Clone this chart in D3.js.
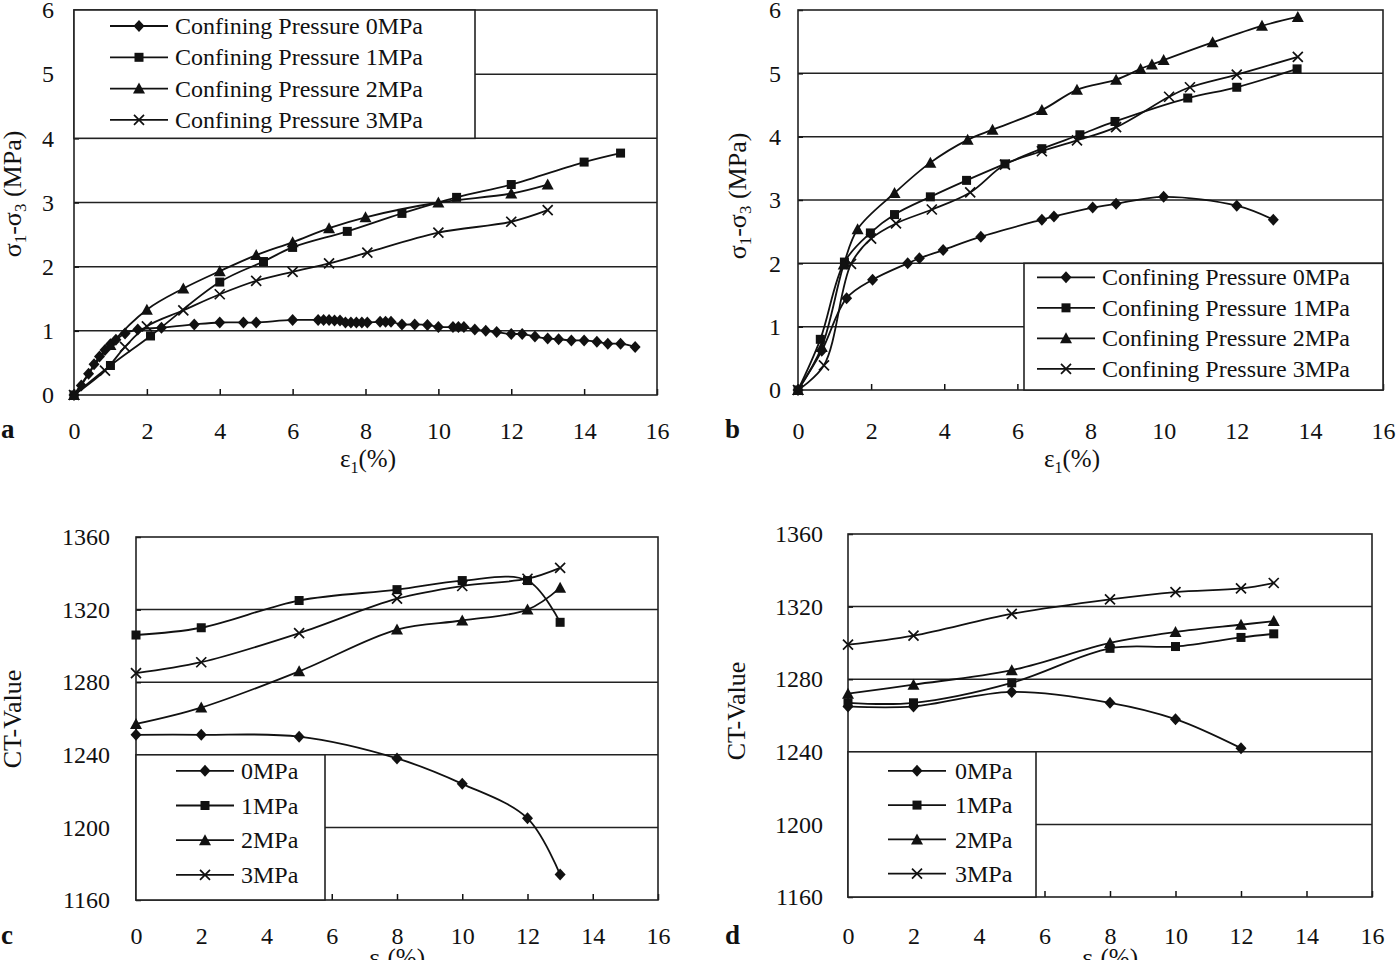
<!DOCTYPE html>
<html>
<head>
<meta charset="utf-8">
<script src="https://d3js.org/d3.v7.min.js"></script>
<style>
  body { margin: 0; background: #fff; }
  svg { display: block; }
  text { font-family: "Liberation Serif", "Times New Roman", serif; fill: #111; }
</style>
</head>
<body>
<svg id="chart" width="1400" height="960"></svg>
<script>
// ---- panel a: stress-strain, sample set 1 ----
const a0x = [0, 0.2, 0.4, 0.55, 0.7, 0.85, 1.0, 1.15, 1.4, 1.75, 2.4, 3.3, 4.0, 4.65, 5.0, 6.0,
  6.7, 6.85, 7.0, 7.15, 7.3, 7.45, 7.6, 7.75, 7.9, 8.05, 8.4, 8.55, 8.7, 9.0, 9.35, 9.7, 10.0,
  10.4, 10.55, 10.7, 11.0, 11.3, 11.6, 12.0, 12.3, 12.65, 13.0, 13.3, 13.65, 14.0, 14.35, 14.65, 15.0, 15.4];
const a0y = [0, 0.15, 0.33, 0.48, 0.6, 0.7, 0.79, 0.86, 0.96, 1.02, 1.05, 1.1, 1.13, 1.13, 1.13, 1.17,
  1.17, 1.17, 1.17, 1.16, 1.16, 1.13, 1.13, 1.13, 1.13, 1.13, 1.14, 1.14, 1.14, 1.1, 1.1, 1.09, 1.06,
  1.06, 1.06, 1.06, 1.02, 1.0, 0.98, 0.95, 0.95, 0.91, 0.88, 0.87, 0.85, 0.85, 0.83, 0.8, 0.8, 0.75];
const a1x = [0, 1.0, 2.1, 4.0, 5.2, 6.0, 7.5, 9.0, 10.5, 12.0, 14.0, 15.0];
const a1y = [0, 0.46, 0.92, 1.76, 2.08, 2.3, 2.55, 2.83, 3.08, 3.28, 3.63, 3.77];
const a2x = [0, 1.0, 2.0, 3.0, 4.0, 5.0, 6.0, 7.0, 8.0, 10.0, 12.0, 13.0];
const a2y = [0, 0.78, 1.33, 1.66, 1.93, 2.18, 2.38, 2.6, 2.77, 3.0, 3.14, 3.28];
const a3x = [0, 0.85, 1.4, 2.0, 3.0, 4.0, 5.0, 6.0, 7.0, 8.05, 10.0, 12.0, 13.0];
const a3y = [0, 0.38, 0.75, 1.07, 1.32, 1.57, 1.78, 1.92, 2.05, 2.22, 2.53, 2.7, 2.88];

// ---- panel b: stress-strain, sample set 2 ----
const b0x = [0, 0.65, 1.33, 2.04, 3.0, 3.32, 3.97, 5.0, 6.67, 7.0, 8.06, 8.7, 10.0, 12.0, 13.0];
const b0y = [0, 0.62, 1.45, 1.74, 2.0, 2.08, 2.21, 2.42, 2.69, 2.74, 2.88, 2.94, 3.05, 2.91, 2.69];
const b1x = [0, 0.61, 1.27, 1.98, 2.64, 3.62, 4.61, 5.66, 6.67, 7.71, 8.67, 10.66, 12.0, 13.65];
const b1y = [0, 0.8, 2.02, 2.48, 2.77, 3.05, 3.31, 3.57, 3.81, 4.03, 4.24, 4.61, 4.78, 5.07];
const b2x = [0, 0.65, 1.25, 1.63, 2.64, 3.62, 4.64, 5.32, 6.67, 7.63, 8.7, 9.37, 9.68, 10.0, 11.34, 12.69, 13.67];
const b2y = [0, 0.68, 1.98, 2.54, 3.11, 3.59, 3.95, 4.11, 4.42, 4.74, 4.9, 5.07, 5.14, 5.21, 5.49, 5.75, 5.89];
const b3x = [0, 0.71, 1.45, 2.0, 2.68, 3.66, 4.71, 5.66, 6.67, 7.63, 8.7, 10.15, 10.72, 12.0, 13.67];
const b3y = [0, 0.39, 1.99, 2.39, 2.63, 2.85, 3.12, 3.56, 3.77, 3.94, 4.15, 4.63, 4.78, 4.98, 5.26];

// ---- panels c, d: CT value vs strain ----
const ctStrain = [0, 2, 5, 8, 10, 12, 13];
const ctC0 = [1251, 1251, 1250, 1238, 1224, 1205, 1174];
const ctC1 = [1306, 1310, 1325, 1331, 1336, 1336, 1313];
const ctC2 = [1257, 1266, 1286, 1309, 1314, 1320, 1332];
const ctC3 = [1285, 1291, 1307, 1326, 1333, 1337, 1343];
const ctD0 = [1265, 1265, 1273, 1267, 1258, 1242];
const ctD1 = [1267, 1267, 1278, 1297, 1298, 1303, 1305];
const ctD2 = [1272, 1277, 1285, 1300, 1306, 1310, 1312];
const ctD3 = [1299, 1304, 1316, 1324, 1328, 1330, 1333];

const xTicks = [0, 2, 4, 6, 8, 10, 12, 14, 16];
const stressTicks = [0, 1, 2, 3, 4, 5, 6];
const ctTicks = [1160, 1200, 1240, 1280, 1320, 1360];
const longNames = ["Confining Pressure 0MPa", "Confining Pressure 1MPa", "Confining Pressure 2MPa", "Confining Pressure 3MPa"];
const shortNames = ["0MPa", "1MPa", "2MPa", "3MPa"];
const markers = ["diamond", "square", "triangle", "cross"];

const ink = "#111";
const svg = d3.select("#chart");

function zip(xs, ys) { return ys.map((v, i) => [xs[i], v]); }

function drawMarker(g, type, cx, cy) {
  if (type === "diamond") {
    g.append("path").attr("d", `M${cx},${cy - 6}L${cx + 5.5},${cy}L${cx},${cy + 6}L${cx - 5.5},${cy}Z`).attr("fill", ink);
  } else if (type === "square") {
    g.append("rect").attr("x", cx - 4.5).attr("y", cy - 4.5).attr("width", 9).attr("height", 9).attr("fill", ink);
  } else if (type === "triangle") {
    g.append("path").attr("d", `M${cx},${cy - 6}L${cx + 6},${cy + 5}L${cx - 6},${cy + 5}Z`).attr("fill", ink);
  } else {
    g.append("path").attr("d", `M${cx - 5},${cy - 5}L${cx + 5},${cy + 5}M${cx - 5},${cy + 5}L${cx + 5},${cy - 5}`)
      .attr("stroke", ink).attr("stroke-width", 1.7).attr("fill", "none");
  }
}

function drawPanel(p) {
  const x = d3.scaleLinear().domain([0, 16]).range([p.left, p.right]);
  const y = d3.scaleLinear().domain(p.yDomain).range([p.bottom, p.top]);
  const g = svg.append("g");

  // horizontal gridlines
  g.append("g").selectAll("line").data(p.yTicks.slice(1, -1)).join("line")
    .attr("x1", p.left).attr("x2", p.right)
    .attr("y1", d => y(d)).attr("y2", d => y(d))
    .attr("stroke", "#222").attr("stroke-width", 1.5);

  // axes, ticks point into the plot
  const xa = g.append("g").attr("transform", `translate(0,${p.bottom})`)
    .call(d3.axisBottom(x).tickValues(xTicks).tickFormat(d3.format("d")).tickSize(-6).tickPadding(p.xPad));
  xa.select(".domain").remove();
  xa.attr("font-size", 24).attr("font-family", "Liberation Serif").attr("color", ink);
  xa.selectAll("line").attr("stroke-width", 1.5);

  const ya = g.append("g").attr("transform", `translate(${p.left},0)`)
    .call(d3.axisLeft(y).tickValues(p.yTicks).tickFormat(d3.format("d")).tickSize(-5).tickPadding(p.yPad));
  ya.select(".domain").remove();
  ya.attr("font-size", 24).attr("font-family", "Liberation Serif").attr("color", ink);
  ya.selectAll("line").attr("stroke-width", 1.5);

  // plot frame
  g.append("rect").attr("x", p.left).attr("y", p.top)
    .attr("width", p.right - p.left).attr("height", p.bottom - p.top)
    .attr("fill", "none").attr("stroke", "#222").attr("stroke-width", 1.6);

  // series
  const line = d3.line().x(d => x(d[0])).y(d => y(d[1])).curve(d3.curveCatmullRom.alpha(0.5));
  p.series.forEach((s, i) => {
    g.append("path").datum(s).attr("d", line)
      .attr("fill", "none").attr("stroke", ink).attr("stroke-width", 1.8);
    const mg = g.append("g");
    s.forEach(d => drawMarker(mg, markers[i], x(d[0]), y(d[1])));
  });

  // legend box
  const L = p.legend;
  const lx0 = L.left != null ? p.left + L.left : p.left;
  const lx1 = L.right != null ? p.left + L.right : p.right;
  const ly0 = y(L.yTop), ly1 = y(L.yBottom);
  const lg = g.append("g");
  lg.append("rect").attr("x", lx0).attr("y", ly0).attr("width", lx1 - lx0).attr("height", ly1 - ly0)
    .attr("fill", "#fff").attr("stroke", "#222").attr("stroke-width", 1.6);
  L.names.forEach((name, i) => {
    const cy = ly0 + L.first + i * L.step;
    lg.append("line").attr("x1", lx0 + L.lineX).attr("x2", lx0 + L.lineX + 58)
      .attr("y1", cy).attr("y2", cy).attr("stroke", ink).attr("stroke-width", 1.8);
    drawMarker(lg, markers[i], lx0 + L.lineX + 29, cy);
    lg.append("text").attr("x", lx0 + L.textX).attr("y", cy).attr("dy", "0.34em")
      .attr("font-size", 24).text(name);
  });

  // panel letter
  g.append("text").attr("x", p.letterX).attr("y", p.letterY).attr("font-size", 27)
    .attr("font-weight", "bold").text(p.letter);

  // x title: ε1(%)
  const xt = g.append("text").attr("x", p.xTitleX).attr("y", p.xTitleY)
    .attr("text-anchor", "middle").attr("font-size", 25);
  xt.append("tspan").text("ε");
  xt.append("tspan").attr("font-size", 16).attr("dy", 6).text("1");
  xt.append("tspan").attr("dy", -6).text("(%)");

  // y title
  const yt = g.append("text").attr("transform", `translate(${p.yTitleX},${p.yTitleY}) rotate(-90)`)
    .attr("text-anchor", "middle").attr("font-size", 26);
  if (p.stress) {
    yt.append("tspan").text("σ");
    yt.append("tspan").attr("font-size", 17).attr("dy", 5).text("1");
    yt.append("tspan").attr("dy", -5).text("-σ");
    yt.append("tspan").attr("font-size", 17).attr("dy", 5).text("3");
    yt.append("tspan").attr("dy", -5).text(" (MPa)");
  } else {
    yt.text("CT-Value");
  }
}

drawPanel({
  left: 74, right: 657, top: 10, bottom: 395, yDomain: [0, 6], yTicks: stressTicks,
  xPad: 27, yPad: 20, stress: true,
  series: [zip(a0x, a0y), zip(a1x, a1y), zip(a2x, a2y), zip(a3x, a3y)],
  legend: { right: 401, yTop: 6, yBottom: 4, first: 16, step: 31.3, lineX: 36, textX: 101, names: longNames },
  letter: "a", letterX: 1, letterY: 438, xTitleX: 368, xTitleY: 467, yTitleX: 21, yTitleY: 194
});

drawPanel({
  left: 798, right: 1383, top: 10, bottom: 390, yDomain: [0, 6], yTicks: stressTicks,
  xPad: 32, yPad: 17, stress: true,
  series: [zip(b0x, b0y), zip(b1x, b1y), zip(b2x, b2y), zip(b3x, b3y)],
  legend: { left: 226, yTop: 2, yBottom: 0, first: 14, step: 30.5, lineX: 13, textX: 78, names: longNames },
  letter: "b", letterX: 725, letterY: 438, xTitleX: 1072, xTitleY: 467, yTitleX: 746, yTitleY: 196
});

drawPanel({
  left: 136, right: 658, top: 537, bottom: 900, yDomain: [1160, 1360], yTicks: ctTicks,
  xPad: 27, yPad: 26, stress: false,
  series: [zip(ctStrain, ctC0), zip(ctStrain, ctC1), zip(ctStrain, ctC2), zip(ctStrain, ctC3)],
  legend: { right: 189, yTop: 1240, yBottom: 1160, first: 16, step: 34.7, lineX: 40, textX: 105, names: shortNames },
  letter: "c", letterX: 1, letterY: 944, xTitleX: 397, xTitleY: 966, yTitleX: 21, yTitleY: 719
});

drawPanel({
  left: 848, right: 1372, top: 534, bottom: 897, yDomain: [1160, 1360], yTicks: ctTicks,
  xPad: 30, yPad: 25, stress: false,
  series: [zip(ctStrain, ctD0), zip(ctStrain, ctD1), zip(ctStrain, ctD2), zip(ctStrain, ctD3)],
  legend: { right: 188, yTop: 1240, yBottom: 1160, first: 19, step: 34.3, lineX: 40, textX: 107, names: shortNames },
  letter: "d", letterX: 725, letterY: 944, xTitleX: 1110, xTitleY: 966, yTitleX: 745, yTitleY: 711
});
</script>
</body>
</html>
